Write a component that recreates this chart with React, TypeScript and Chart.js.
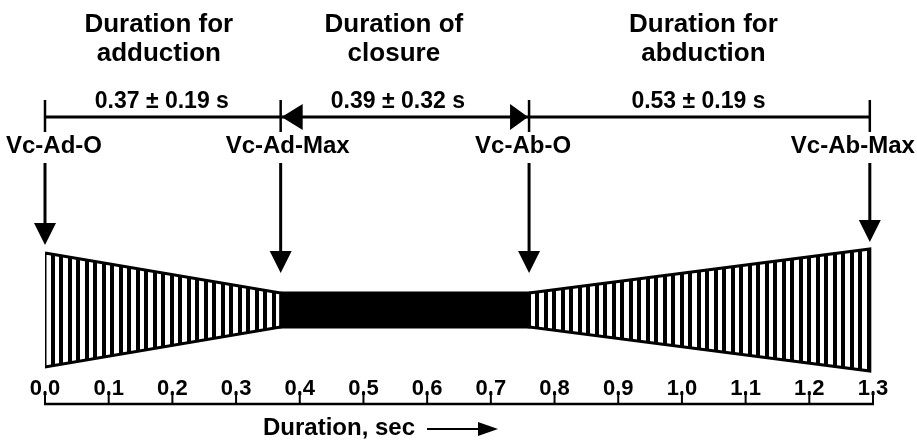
import React, { useEffect, useRef } from "react";
import { Chart, registerables } from "chart.js";

Chart.register(...registerables);

// ---- data ----
const EVENT_LABELS = ["Vc-Ad-O", "Vc-Ad-Max", "Vc-Ab-O", "Vc-Ab-Max"];
const EVENT_TIMES = [0, 0.37, 0.76, 1.295];
// schematic half-opening of the vocal cords at each event
const EVENT_OPENING = [57, 17, 17, 61];
const PHASE_TITLES = [
  ["Duration for", "adduction"],
  ["Duration of", "closure"],
  ["Duration for", "abduction"],
];
const PHASE_VALUES = ["0.37 ± 0.19 s", "0.39 ± 0.32 s", "0.53 ± 0.19 s"];
const TICK_VALUES = [0, 0.1, 0.2, 0.3, 0.4, 0.5, 0.6, 0.7, 0.8, 0.9, 1.0, 1.1, 1.2, 1.3];
const TICK_LABELS = ["0.0", "0.1", "0.2", "0.3", "0.4", "0.5", "0.6", "0.7", "0.8", "0.9", "1.0", "1.1", "1.2", "1.3"];
const AXIS_TITLE = "Duration, sec";

const FONT = '"Liberation Sans", Arial, Helvetica, sans-serif';

function makeStripePattern(ctx: CanvasRenderingContext2D) {
  const c = document.createElement("canvas");
  c.width = 17;
  c.height = 4;
  const p = c.getContext("2d")!;
  p.fillStyle = "#fff";
  p.fillRect(0, 0, 17, 4);
  p.fillStyle = "#000";
  p.fillRect(0, 0, 4, 4);
  p.fillRect(8, 0, 4, 4);
  return ctx.createPattern(c, "repeat")!;
}

function polygon(i: number, j: number) {
  const a = EVENT_TIMES[i], b = EVENT_TIMES[j];
  const oa = EVENT_OPENING[i], ob = EVENT_OPENING[j];
  return [
    { x: a, y: oa },
    { x: b, y: ob },
    { x: b, y: -ob },
    { x: a, y: -oa },
    { x: a, y: oa },
  ];
}

const annotations = {
  id: "annotations",
  afterDatasetsDraw(chart: any) {
    const ctx: CanvasRenderingContext2D = chart.ctx;
    const xs = chart.scales.x;
    const px = EVENT_TIMES.map((t) => xs.getPixelForValue(t));
    ctx.save();
    ctx.fillStyle = "#000";
    ctx.strokeStyle = "#000";
    ctx.lineCap = "butt";
    ctx.textBaseline = "alphabetic";

    // phase titles
    const titleDx = [-4, -11, 4];
    ctx.textAlign = "center";
    ctx.font = `bold 26px ${FONT}`;
    PHASE_TITLES.forEach((lines, i) => {
      const cx = (px[i] + px[i + 1]) / 2 + titleDx[i];
      lines.forEach((l, j) => ctx.fillText(l, cx, 32 + j * 29));
    });

    // phase values
    const valDx = [-1, -7, -1];
    ctx.font = `bold 23px ${FONT}`;
    PHASE_VALUES.forEach((v, i) => {
      const cx = (px[i] + px[i + 1]) / 2 + valDx[i];
      ctx.fillText(v, cx, 108);
    });

    // dimension line
    const dimY = 117;
    ctx.lineWidth = 3;
    ctx.beginPath();
    ctx.moveTo(px[0], dimY);
    ctx.lineTo(px[3], dimY);
    ctx.stroke();
    ctx.lineWidth = 2.5;
    px.forEach((x) => {
      ctx.beginPath();
      ctx.moveTo(x, 100);
      ctx.lineTo(x, 132);
      ctx.stroke();
    });
    // arrowheads on dimension line
    ctx.beginPath();
    ctx.moveTo(px[1] + 1, dimY);
    ctx.lineTo(px[1] + 22, dimY - 13);
    ctx.lineTo(px[1] + 22, dimY + 13);
    ctx.closePath();
    ctx.fill();
    ctx.beginPath();
    ctx.moveTo(px[2] - 1, dimY);
    ctx.lineTo(px[2] - 19, dimY - 13);
    ctx.lineTo(px[2] - 19, dimY + 13);
    ctx.closePath();
    ctx.fill();

    // event labels
    const labDx = [9, 7, -6, -17];
    ctx.font = `bold 24px ${FONT}`;
    EVENT_LABELS.forEach((l, i) => {
      ctx.fillText(l, px[i] + labDx[i], 153);
    });

    // down arrows
    const tips = [245, 273, 273, 242];
    px.forEach((x, i) => {
      ctx.lineWidth = 3;
      ctx.beginPath();
      ctx.moveTo(x, 163);
      ctx.lineTo(x, tips[i] - 18);
      ctx.stroke();
      ctx.beginPath();
      ctx.moveTo(x, tips[i]);
      ctx.lineTo(x - 11, tips[i] - 22);
      ctx.lineTo(x + 11, tips[i] - 22);
      ctx.closePath();
      ctx.fill();
    });

    // x axis
    const axY = 404;
    const tx = TICK_VALUES.map((v) => xs.getPixelForValue(v));
    ctx.lineWidth = 2.5;
    ctx.beginPath();
    ctx.moveTo(tx[0] - 1, axY);
    ctx.lineTo(tx[tx.length - 1] + 1, axY);
    ctx.stroke();
    ctx.lineWidth = 2;
    tx.forEach((x) => {
      ctx.beginPath();
      ctx.moveTo(x, 391);
      ctx.lineTo(x, axY);
      ctx.stroke();
    });
    ctx.font = `bold 22px ${FONT}`;
    TICK_LABELS.forEach((l, i) => ctx.fillText(l, tx[i], 395));

    // axis title with arrow
    ctx.textAlign = "left";
    ctx.font = `bold 24px ${FONT}`;
    const tX = 263;
    ctx.fillText(AXIS_TITLE, tX, 435);
    const w = ctx.measureText(AXIS_TITLE).width;
    const a0 = tX + w + 12;
    const a1 = 498;
    const ay = 429;
    ctx.lineWidth = 2;
    ctx.beginPath();
    ctx.moveTo(a0, ay);
    ctx.lineTo(a1 - 18, ay);
    ctx.stroke();
    ctx.beginPath();
    ctx.moveTo(a1, ay);
    ctx.lineTo(a1 - 20, ay - 7);
    ctx.lineTo(a1 - 20, ay + 7);
    ctx.closePath();
    ctx.fill();

    ctx.restore();
  },
};

export default function App() {
  const ref = useRef<HTMLCanvasElement>(null);
  useEffect(() => {
    const canvas = ref.current!;
    const ctx = canvas.getContext("2d")!;
    const pattern = makeStripePattern(ctx);
    const shapeBase = {
      showLine: true,
      pointRadius: 0,
      pointHoverRadius: 0,
      borderColor: "#000",
      borderWidth: 3,
      tension: 0,
      fill: "shape",
      borderJoinStyle: "miter" as const,
    };
    const chart = new Chart(canvas, {
      type: "scatter",
      data: {
        datasets: [
          { ...shapeBase, label: "adduction", data: polygon(0, 1), backgroundColor: pattern },
          { ...shapeBase, label: "abduction", data: polygon(2, 3), backgroundColor: pattern },
          { ...shapeBase, label: "closure", data: polygon(1, 2), backgroundColor: "#000" },
        ],
      },
      options: {
        animation: false,
        responsive: false,
        devicePixelRatio: 1,
        layout: { padding: { left: 45, right: 44, top: 0, bottom: 0 } },
        scales: {
          x: { type: "linear", min: 0, max: 1.3, display: false },
          y: { type: "linear", min: -130, max: 310, display: false },
        },
        plugins: {
          legend: { display: false },
          tooltip: { enabled: false },
        },
        events: [],
      },
      plugins: [annotations],
    });
    return () => chart.destroy();
  }, []);
  return (
    <div style={{ position: "fixed", left: 0, top: 0, width: 917, height: 440, background: "#fff" }}>
      <canvas ref={ref} width={917} height={440} style={{ display: "block" }} />
    </div>
  );
}
